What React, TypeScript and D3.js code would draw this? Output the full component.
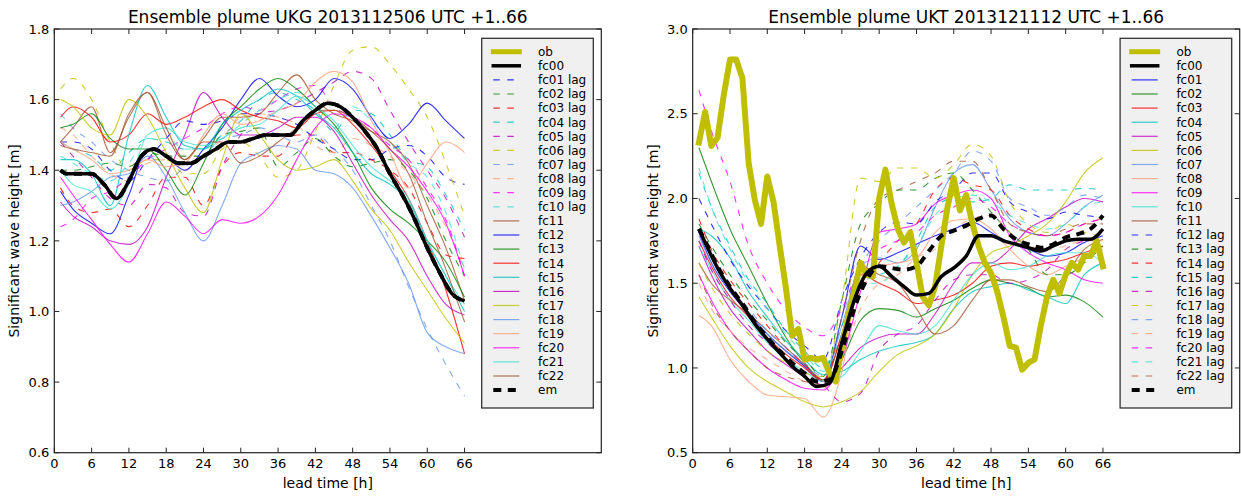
import * as d3 from "d3";

// ---- shared x grids (lead time in hours) ----
const memberHours = [1, 3, 6, 9, 12, 15, 18, 21, 24, 27, 30, 33, 36, 39, 42, 45, 48, 51, 54, 57, 60, 63, 66];
const fineHours = [1, 2, 4, 6, 8, 10, 12, 14, 16, 18, 20, 22, 24, 26, 28, 30, 32, 34, 36, 38, 40, 42, 44, 46, 48, 50, 52, 54, 56, 58, 60, 62, 64, 66];
const obHours = d3.range(1, 67);
const xTicks = [0, 6, 12, 18, 24, 30, 36, 42, 48, 54, 60, 66];

// ---- UKG 2013112506 (left panel) ----
const ukgTicks = [0.6, 0.8, 1.0, 1.2, 1.4, 1.6, 1.8];
const ukgFc00 = [1.40, 1.39, 1.39, 1.39, 1.36, 1.32, 1.37, 1.44, 1.46, 1.44, 1.42, 1.42, 1.44, 1.46, 1.48, 1.48, 1.49, 1.50, 1.50, 1.50, 1.54, 1.57, 1.59, 1.58, 1.55, 1.51, 1.46, 1.39, 1.33, 1.26, 1.18, 1.11, 1.05, 1.03];
const ukgEm = [1.40, 1.39, 1.39, 1.39, 1.36, 1.32, 1.37, 1.44, 1.46, 1.44, 1.42, 1.42, 1.44, 1.46, 1.48, 1.48, 1.49, 1.50, 1.50, 1.50, 1.54, 1.57, 1.59, 1.58, 1.55, 1.51, 1.46, 1.39, 1.33, 1.26, 1.18, 1.11, 1.05, 1.03];
const ukgOb: number[] = [];
const ukgFc01Lag = [1.48, 1.48, 1.46, 1.40, 1.37, 1.43, 1.49, 1.54, 1.53, 1.54, 1.56, 1.56, 1.55, 1.53, 1.49, 1.46, 1.43, 1.43, 1.46, 1.47, 1.44, 1.38, 1.36];
const ukgFc02Lag = [1.40, 1.40, 1.41, 1.42, 1.41, 1.45, 1.44, 1.44, 1.44, 1.50, 1.51, 1.52, 1.41, 1.45, 1.49, 1.44, 1.41, 1.42, 1.43, 1.40, 1.32, 1.20, 1.10];
const ukgFc03Lag = [1.35, 1.30, 1.28, 1.29, 1.24, 1.30, 1.38, 1.38, 1.30, 1.41, 1.45, 1.44, 1.44, 1.50, 1.50, 1.45, 1.45, 1.43, 1.40, 1.35, 1.25, 1.16, 1.15];
const ukgFc04Lag = [1.48, 1.46, 1.44, 1.40, 1.45, 1.49, 1.48, 1.46, 1.46, 1.50, 1.54, 1.60, 1.62, 1.60, 1.57, 1.51, 1.57, 1.56, 1.50, 1.43, 1.41, 1.33, 1.23];
const ukgFc05Lag = [1.48, 1.44, 1.38, 1.32, 1.30, 1.36, 1.35, 1.28, 1.27, 1.41, 1.50, 1.56, 1.57, 1.59, 1.62, 1.65, 1.68, 1.66, 1.57, 1.48, 1.40, 1.32, 1.21];
const ukgFc06Lag = [1.63, 1.66, 1.60, 1.48, 1.40, 1.43, 1.43, 1.39, 1.39, 1.46, 1.48, 1.44, 1.38, 1.40, 1.51, 1.64, 1.74, 1.75, 1.70, 1.63, 1.55, 1.42, 1.27];
const ukgFc07Lag = [1.56, 1.52, 1.48, 1.43, 1.40, 1.38, 1.37, 1.41, 1.44, 1.49, 1.50, 1.52, 1.50, 1.48, 1.50, 1.46, 1.40, 1.30, 1.20, 1.07, 0.95, 0.85, 0.76];
const ukgFc08Lag = [1.52, 1.50, 1.44, 1.39, 1.37, 1.42, 1.43, 1.40, 1.44, 1.49, 1.55, 1.56, 1.55, 1.53, 1.47, 1.45, 1.49, 1.47, 1.44, 1.39, 1.33, 1.24, 1.12];
const ukgFc09Lag = [1.24, 1.26, 1.32, 1.34, 1.38, 1.43, 1.46, 1.49, 1.52, 1.56, 1.58, 1.57, 1.60, 1.63, 1.64, 1.58, 1.55, 1.52, 1.47, 1.43, 1.35, 1.26, 1.10];
const ukgFc10Lag = [1.44, 1.42, 1.39, 1.37, 1.42, 1.49, 1.49, 1.46, 1.46, 1.49, 1.53, 1.57, 1.60, 1.62, 1.58, 1.52, 1.58, 1.54, 1.48, 1.42, 1.38, 1.28, 1.12];
const ukgFc11 = [1.48, 1.52, 1.58, 1.45, 1.55, 1.62, 1.50, 1.43, 1.49, 1.55, 1.55, 1.56, 1.62, 1.67, 1.60, 1.56, 1.54, 1.51, 1.48, 1.42, 1.30, 1.18, 1.03];
const ukgFc12 = [1.34, 1.29, 1.25, 1.22, 1.33, 1.46, 1.44, 1.40, 1.46, 1.52, 1.60, 1.66, 1.61, 1.58, 1.60, 1.66, 1.63, 1.55, 1.49, 1.53, 1.59, 1.54, 1.49];
const ukgFc13 = [1.52, 1.53, 1.56, 1.49, 1.46, 1.46, 1.40, 1.33, 1.42, 1.53, 1.58, 1.63, 1.66, 1.63, 1.58, 1.53, 1.45, 1.35, 1.29, 1.25, 1.20, 1.14, 1.04];
const ukgFc14 = [1.55, 1.58, 1.55, 1.48, 1.50, 1.56, 1.53, 1.55, 1.58, 1.60, 1.57, 1.55, 1.54, 1.52, 1.56, 1.57, 1.53, 1.47, 1.40, 1.32, 1.20, 1.06, 0.88];
const ukgFc15 = [1.43, 1.43, 1.39, 1.30, 1.50, 1.64, 1.55, 1.47, 1.46, 1.53, 1.57, 1.60, 1.63, 1.61, 1.56, 1.52, 1.45, 1.39, 1.36, 1.31, 1.20, 1.10, 1.00];
const ukgFc16 = [1.31, 1.27, 1.24, 1.20, 1.19, 1.24, 1.38, 1.50, 1.62, 1.55, 1.50, 1.50, 1.52, 1.55, 1.55, 1.51, 1.42, 1.33, 1.26, 1.20, 1.10, 1.02, 0.99];
const ukgFc17 = [1.60, 1.58, 1.52, 1.50, 1.60, 1.55, 1.45, 1.35, 1.28, 1.43, 1.56, 1.50, 1.43, 1.40, 1.41, 1.43, 1.37, 1.29, 1.23, 1.14, 1.06, 0.98, 0.91];
const ukgFc18 = [1.30, 1.31, 1.34, 1.38, 1.39, 1.44, 1.38, 1.28, 1.20, 1.30, 1.42, 1.45, 1.47, 1.46, 1.40, 1.39, 1.35, 1.27, 1.18, 1.08, 0.94, 0.90, 0.88];
const ukgFc19 = [1.48, 1.46, 1.43, 1.39, 1.40, 1.43, 1.41, 1.42, 1.50, 1.56, 1.53, 1.54, 1.57, 1.59, 1.65, 1.68, 1.65, 1.54, 1.45, 1.35, 1.42, 1.48, 1.45];
const ukgFc20 = [1.38, 1.33, 1.26, 1.19, 1.14, 1.22, 1.31, 1.27, 1.22, 1.26, 1.25, 1.27, 1.33, 1.43, 1.52, 1.56, 1.55, 1.52, 1.46, 1.41, 1.34, 1.25, 1.10];
const ukgFc21 = [1.40, 1.36, 1.34, 1.29, 1.36, 1.50, 1.52, 1.48, 1.47, 1.49, 1.52, 1.53, 1.57, 1.61, 1.58, 1.54, 1.47, 1.41, 1.37, 1.32, 1.20, 1.10, 1.02];
const ukgFc22 = [1.47, 1.46, 1.45, 1.44, 1.56, 1.62, 1.52, 1.43, 1.48, 1.48, 1.42, 1.44, 1.48, 1.52, 1.57, 1.57, 1.55, 1.51, 1.46, 1.39, 1.25, 1.12, 0.97];

// ---- UKT 2013121112 (right panel) ----
const uktTicks = [0.5, 1.0, 1.5, 2.0, 2.5, 3.0];
const uktFc00 = [1.82, 1.74, 1.59, 1.47, 1.37, 1.26, 1.17, 1.09, 1.01, 0.95, 0.89, 0.91, 1.15, 1.40, 1.56, 1.60, 1.54, 1.48, 1.43, 1.44, 1.54, 1.59, 1.66, 1.78, 1.78, 1.75, 1.73, 1.71, 1.69, 1.72, 1.75, 1.76, 1.76, 1.82];
const uktEm = [1.82, 1.75, 1.60, 1.48, 1.38, 1.27, 1.18, 1.10, 1.03, 0.97, 0.92, 0.93, 1.10, 1.35, 1.52, 1.60, 1.59, 1.58, 1.60, 1.69, 1.78, 1.81, 1.84, 1.88, 1.90, 1.82, 1.76, 1.73, 1.71, 1.73, 1.77, 1.79, 1.82, 1.90];
const uktOb = [2.33, 2.51, 2.31, 2.36, 2.61, 2.82, 2.82, 2.71, 2.21, 1.99, 1.85, 2.13, 1.98, 1.72, 1.47, 1.19, 1.23, 1.05, 1.06, 1.05, 1.06, 0.97, 0.92, 1.12, 1.30, 1.45, 1.62, 1.55, 1.54, 2.00, 2.17, 1.97, 1.82, 1.74, 1.80, 1.62, 1.42, 1.37, 1.48, 1.72, 1.95, 2.12, 1.93, 2.02, 1.85, 1.72, 1.62, 1.56, 1.45, 1.30, 1.13, 1.12, 0.99, 1.03, 1.05, 1.25, 1.42, 1.52, 1.44, 1.55, 1.62, 1.58, 1.66, 1.66, 1.75, 1.60];
const uktFc01 = [1.80, 1.62, 1.45, 1.32, 1.20, 1.10, 1.01, 0.92, 1.30, 1.72, 1.64, 1.68, 1.73, 1.78, 1.82, 1.86, 1.80, 1.74, 1.70, 1.66, 1.68, 1.74, 1.78];
const uktFc02 = [2.30, 2.10, 1.82, 1.60, 1.38, 1.18, 1.03, 0.93, 1.05, 1.28, 1.35, 1.34, 1.30, 1.35, 1.40, 1.47, 1.52, 1.50, 1.47, 1.42, 1.43, 1.39, 1.30];
const uktFc03 = [1.75, 1.60, 1.42, 1.30, 1.18, 1.08, 1.00, 0.92, 1.20, 1.55, 1.50, 1.45, 1.38, 1.40, 1.43, 1.50, 1.60, 1.62, 1.60, 1.62, 1.64, 1.68, 1.72];
const uktFc04 = [1.82, 1.78, 1.65, 1.45, 1.30, 1.16, 1.05, 0.96, 0.98, 1.05, 1.10, 1.13, 1.15, 1.20, 1.35, 1.45, 1.48, 1.50, 1.46, 1.42, 1.38, 1.55, 1.62];
const uktFc05 = [1.72, 1.55, 1.35, 1.22, 1.10, 1.02, 0.95, 0.90, 1.00, 1.12, 1.18, 1.20, 1.20, 1.32, 1.50, 1.62, 1.62, 1.70, 1.82, 1.88, 1.95, 2.00, 1.98];
const uktFc06 = [1.42, 1.30, 1.13, 1.00, 0.92, 0.86, 0.80, 0.77, 0.80, 0.86, 0.98, 1.08, 1.13, 1.20, 1.35, 1.55, 1.68, 1.72, 1.78, 1.85, 1.98, 2.15, 2.24];
const uktFc07 = [1.78, 1.62, 1.46, 1.33, 1.20, 1.10, 1.02, 0.93, 1.25, 1.60, 1.65, 1.62, 1.70, 1.95, 2.15, 2.20, 2.05, 1.88, 1.80, 1.78, 1.85, 1.95, 2.02];
const uktFc08 = [1.31, 1.25, 1.05, 0.92, 0.84, 0.83, 0.82, 0.71, 0.98, 1.55, 1.60, 1.62, 1.65, 1.80, 1.87, 1.88, 1.82, 1.70, 1.60, 1.55, 1.60, 1.65, 1.70];
const uktFc09 = [1.55, 1.40, 1.22, 1.10, 1.00, 0.93, 0.88, 0.87, 1.05, 1.45, 1.80, 1.82, 1.85, 1.97, 2.02, 2.05, 2.00, 1.78, 1.68, 1.62, 1.58, 1.52, 1.50];
const uktFc10 = [1.72, 1.58, 1.40, 1.28, 1.15, 1.05, 0.98, 0.92, 0.95, 1.10, 1.25, 1.22, 1.20, 1.25, 1.40, 1.55, 1.62, 1.58, 1.60, 1.66, 1.68, 1.68, 1.62];
const uktFc11 = [1.62, 1.50, 1.40, 1.32, 1.22, 1.12, 1.02, 0.93, 1.20, 1.60, 1.55, 1.50, 1.35, 1.20, 1.25, 1.40, 1.52, 1.52, 1.48, 1.45, 1.55, 1.70, 1.76];
const uktFc12Lag = [2.00, 1.85, 1.64, 1.48, 1.35, 1.22, 1.13, 1.05, 1.40, 1.65, 1.80, 1.86, 1.85, 1.98, 2.05, 2.15, 2.15, 1.98, 1.92, 1.88, 1.92, 1.90, 1.89];
const uktFc13Lag = [1.85, 1.72, 1.55, 1.40, 1.28, 1.15, 1.05, 0.95, 1.40, 1.85, 1.97, 2.05, 2.05, 2.12, 2.15, 2.05, 1.92, 1.80, 1.70, 1.55, 1.55, 1.62, 1.72];
const uktFc14Lag = [1.88, 1.70, 1.52, 1.38, 1.25, 1.12, 1.02, 0.93, 1.20, 1.45, 1.62, 1.75, 1.85, 2.05, 2.12, 2.08, 2.05, 1.90, 1.82, 1.78, 1.80, 1.85, 1.88];
const uktFc15Lag = [2.15, 1.95, 1.72, 1.52, 1.38, 1.22, 1.10, 1.00, 1.25, 1.50, 1.55, 1.60, 1.75, 1.95, 2.00, 1.98, 2.00, 2.08, 2.05, 2.05, 2.05, 2.06, 2.05];
const uktFc16Lag = [1.75, 1.58, 1.40, 1.25, 1.15, 1.05, 0.97, 0.90, 0.80, 0.85, 1.10, 1.20, 1.25, 1.40, 1.52, 1.55, 1.55, 1.50, 1.52, 1.58, 1.70, 1.75, 1.78];
const uktFc17Lag = [1.62, 1.48, 1.32, 1.20, 1.10, 1.03, 0.97, 0.95, 1.40, 2.12, 2.10, 2.18, 2.18, 2.12, 2.20, 2.32, 2.25, 1.98, 1.85, 1.80, 1.85, 1.80, 1.78];
const uktFc18Lag = [1.80, 1.65, 1.48, 1.35, 1.22, 1.12, 1.03, 0.95, 1.30, 1.60, 1.75, 1.85, 1.95, 2.05, 2.15, 2.28, 2.22, 2.00, 1.95, 1.90, 1.95, 2.02, 2.00];
const uktFc19Lag = [1.50, 1.35, 1.22, 1.12, 1.05, 0.98, 0.92, 0.88, 1.05, 1.35, 1.50, 1.55, 1.65, 1.70, 1.82, 1.88, 1.90, 1.80, 1.72, 1.70, 1.72, 1.75, 1.75];
const uktFc20Lag = [2.64, 2.40, 2.10, 1.72, 1.50, 1.34, 1.24, 1.19, 1.35, 1.60, 1.70, 1.75, 1.80, 1.90, 1.95, 2.00, 1.95, 1.85, 1.80, 1.78, 1.80, 1.85, 1.88];
const uktFc21Lag = [2.18, 1.95, 1.70, 1.50, 1.35, 1.20, 1.08, 0.98, 1.20, 1.50, 1.50, 1.60, 1.72, 1.90, 2.00, 2.02, 1.98, 1.90, 1.85, 1.82, 1.85, 1.95, 1.98];
const uktFc22Lag = [1.55, 1.38, 1.22, 1.10, 1.00, 0.95, 0.92, 0.90, 1.30, 1.75, 2.00, 2.05, 2.10, 2.15, 2.22, 2.22, 2.05, 1.85, 1.80, 1.78, 1.82, 1.85, 1.85];

// member colour cycle (matplotlib-like)
const palette = ["#0000ff", "#008000", "#ff0000", "#00bfbf", "#bf00bf", "#bfbf00", "#6495ed", "#ffa07a", "#ff00ff", "#40e0d0", "#a0522d"];
const obColor = "#bfbf00";

type Member = { name: string; values: number[]; lag: boolean };

const ukgMembers: Member[] = [
  ukgFc01Lag, ukgFc02Lag, ukgFc03Lag, ukgFc04Lag, ukgFc05Lag, ukgFc06Lag, ukgFc07Lag, ukgFc08Lag, ukgFc09Lag, ukgFc10Lag,
].map((values, i) => ({ name: `fc${String(i + 1).padStart(2, "0")} lag`, values, lag: true }))
  .concat(
    [ukgFc11, ukgFc12, ukgFc13, ukgFc14, ukgFc15, ukgFc16, ukgFc17, ukgFc18, ukgFc19, ukgFc20, ukgFc21, ukgFc22]
      .map((values, i) => ({ name: `fc${i + 11}`, values, lag: false }))
  );

const uktMembers: Member[] = [
  uktFc01, uktFc02, uktFc03, uktFc04, uktFc05, uktFc06, uktFc07, uktFc08, uktFc09, uktFc10, uktFc11,
].map((values, i) => ({ name: `fc${String(i + 1).padStart(2, "0")}`, values, lag: false }))
  .concat(
    [uktFc12Lag, uktFc13Lag, uktFc14Lag, uktFc15Lag, uktFc16Lag, uktFc17Lag, uktFc18Lag, uktFc19Lag, uktFc20Lag, uktFc21Lag, uktFc22Lag]
      .map((values, i) => ({ name: `fc${i + 12} lag`, values, lag: true }))
  );

const FONT = "'DejaVu Sans', Verdana, sans-serif";
const PLOT_W = 547;
const PLOT_TOP = 29;
const PLOT_H = 423.7;
const X_MAX = 88;
const LAG_DASH = "6.5 7.5";
const EM_DASH = "8 6.5";

interface PanelProps {
  id: string;
  left: number;
  title: string;
  yDomain: [number, number];
  yTicks: number[];
  members: Member[];
  fc00: number[];
  em: number[];
  ob: number[];
}

function Panel({ id, left, title, yDomain, yTicks, members, fc00, em, ob }: PanelProps) {
  const x = d3.scaleLinear().domain([0, X_MAX]).range([left, left + PLOT_W]);
  const y = d3.scaleLinear().domain(yDomain).range([PLOT_TOP + PLOT_H, PLOT_TOP]);
  const right = left + PLOT_W;
  const bottom = PLOT_TOP + PLOT_H;

  const lineOf = (hours: number[], curve: d3.CurveFactory) =>
    d3.line<number>().x((_, i) => x(hours[i])).y((v) => y(v)).curve(curve);

  const memberLine = lineOf(memberHours, d3.curveMonotoneX);
  const fineLine = lineOf(fineHours, d3.curveMonotoneX);
  const obLine = lineOf(obHours, d3.curveLinear);

  const colorOf = (name: string) => palette[(parseInt(name.slice(2, 4), 10) - 1) % palette.length];

  // legend layout
  const lgX = left + 427.4;
  const lgY = 38.3;
  const lgW = 111.6;
  const lgH = 369.7;
  const rowY = (i: number) => 51.7 + i * 14.1;
  const sx0 = lgX + 11.6;
  const sx1 = lgX + 37.6;
  const legendItems = [
    { name: "ob", color: obColor, width: 5, dash: undefined as string | undefined, cap: "square", opacity: 1 },
    { name: "fc00", color: "#000", width: 3.5, dash: undefined, cap: "square", opacity: 1 },
    ...members.map((m) => ({ name: m.name, color: colorOf(m.name), width: 1.2, dash: m.lag ? LAG_DASH : undefined, cap: "butt", opacity: 0.8 })),
    { name: "em", color: "#000", width: 4, dash: EM_DASH, cap: "butt", opacity: 1 },
  ];

  return (
    <g>
      <defs>
        <clipPath id={`clip-${id}`}>
          <rect x={left} y={PLOT_TOP} width={PLOT_W} height={PLOT_H} />
        </clipPath>
      </defs>
      <text x={(left + right) / 2} y={23} textAnchor="middle" fontSize={17} fontFamily={FONT} fill="#000">
        {title}
      </text>

      <g clipPath={`url(#clip-${id})`} fill="none">
        {members.map((m) => (
          <path
            key={m.name}
            d={memberLine(m.values) ?? ""}
            stroke={colorOf(m.name)}
            strokeOpacity={0.8}
            strokeWidth={1.1}
            strokeDasharray={m.lag ? LAG_DASH : undefined}
            strokeLinejoin="round"
          />
        ))}
        {ob.length > 0 && (
          <path d={obLine(ob) ?? ""} stroke={obColor} strokeWidth={6} strokeLinejoin="round" strokeLinecap="square" />
        )}
        <path d={fineLine(fc00) ?? ""} stroke="#000" strokeWidth={3.5} strokeLinejoin="round" />
        <path d={fineLine(em) ?? ""} stroke="#000" strokeWidth={4} strokeDasharray={EM_DASH} />
      </g>

      {/* frame */}
      <rect x={left} y={PLOT_TOP} width={PLOT_W} height={PLOT_H} fill="none" stroke="#222" strokeWidth={1.2} />

      {/* x ticks */}
      {xTicks.map((t) => (
        <g key={`x${t}`}>
          <line x1={x(t)} x2={x(t)} y1={bottom} y2={bottom - 5} stroke="#222" />
          <line x1={x(t)} x2={x(t)} y1={PLOT_TOP} y2={PLOT_TOP + 5} stroke="#222" />
          <text x={x(t)} y={bottom + 15.5} textAnchor="middle" fontSize={13} fontFamily={FONT} fill="#000">
            {t}
          </text>
        </g>
      ))}

      {/* y ticks */}
      {yTicks.map((t) => (
        <g key={`y${t}`}>
          <line x1={left} x2={left + 5} y1={y(t)} y2={y(t)} stroke="#222" />
          <line x1={right} x2={right - 5} y1={y(t)} y2={y(t)} stroke="#222" />
          <text x={left - 5} y={y(t)} dy="0.36em" textAnchor="end" fontSize={13} fontFamily={FONT} fill="#000">
            {t.toFixed(1)}
          </text>
        </g>
      ))}

      <text x={(left + right) / 2} y={487.5} textAnchor="middle" fontSize={14} fontFamily={FONT} fill="#000">
        lead time [h]
      </text>
      <text
        transform={`translate(${left - 35},${PLOT_TOP + PLOT_H / 2}) rotate(-90)`}
        textAnchor="middle"
        fontSize={14}
        fontFamily={FONT}
        fill="#000"
      >
        Significant wave height [m]
      </text>

      {/* legend */}
      <rect x={lgX} y={lgY} width={lgW} height={lgH} fill="#f0f0f0" stroke="#333" strokeWidth={1.3} />
      {legendItems.map((it, i) => (
        <g key={it.name}>
          <line
            x1={sx0}
            x2={sx1}
            y1={rowY(i)}
            y2={rowY(i)}
            stroke={it.color}
            strokeOpacity={it.opacity}
            strokeWidth={it.width}
            strokeDasharray={it.dash}
            strokeLinecap={it.cap as "butt" | "square"}
          />
          <text x={lgX + 56.3} y={rowY(i)} dy="0.36em" fontSize={12} fontFamily={FONT} fill="#000">
            {it.name}
          </text>
        </g>
      ))}
    </g>
  );
}

export default function App() {
  return (
    <svg
      width={1241}
      height={498}
      style={{ position: "absolute", left: 0, top: 0, background: "#fff" }}
    >
      <rect width={1241} height={498} fill="#fff" />
      <Panel
        id="ukg"
        left={54.3}
        title="Ensemble plume UKG 2013112506 UTC +1..66"
        yDomain={[0.6, 1.8]}
        yTicks={ukgTicks}
        members={ukgMembers}
        fc00={ukgFc00}
        em={ukgEm}
        ob={ukgOb}
      />
      <Panel
        id="ukt"
        left={692.7}
        title="Ensemble plume UKT 2013121112 UTC +1..66"
        yDomain={[0.5, 3.0]}
        yTicks={uktTicks}
        members={uktMembers}
        fc00={uktFc00}
        em={uktEm}
        ob={uktOb}
      />
    </svg>
  );
}
